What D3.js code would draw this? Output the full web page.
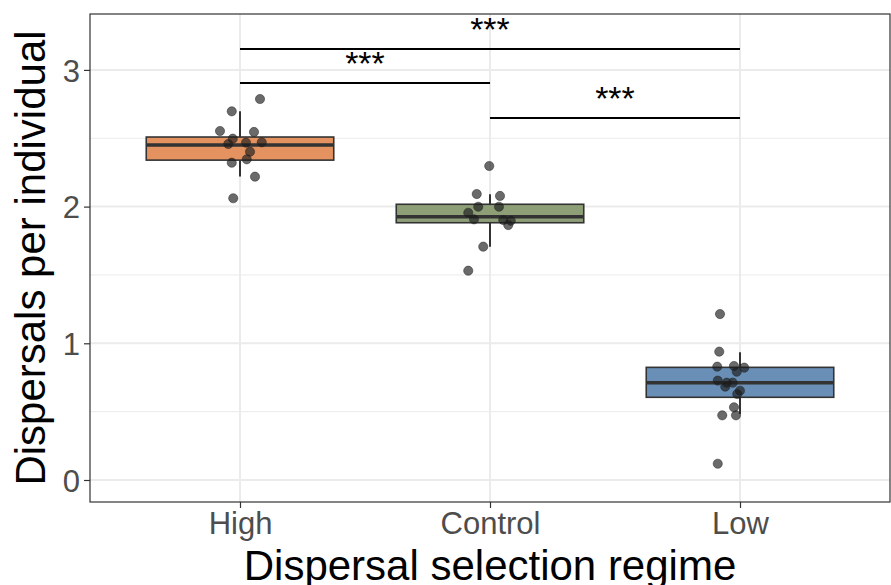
<!DOCTYPE html>
<html>
<head>
<meta charset="utf-8">
<script src="https://cdn.jsdelivr.net/npm/d3@7"></script>
<style>
body { margin: 0; background: #fff; }
svg { display: block; font-family: "Liberation Sans", Arial, sans-serif; }
</style>
</head>
<body>
<svg id="chart" width="891" height="585"></svg>
<script>
// box + jitter plot of dispersals per regime

var categories = ["High", "Control", "Low"];
var boxColors = ["#E4925F", "#8E9F78", "#6A8FB7"];

// box stats: lower whisker, q1, median, q3, upper whisker
var whiskerLow = [2.22, 1.707, 0.483];
var q1 = [2.34, 1.882, 0.605];
var median = [2.45, 1.926, 0.712];
var q3 = [2.509, 2.017, 0.824];
var whiskerHigh = [2.697, 2.09, 0.934];

// individual points: jitter offset (in category steps) and value
var highJitter = [0.08, -0.033, -0.08, 0.056, -0.029, -0.047, 0.024, 0.087, 0.04, 0.027, -0.033, 0.06, -0.027];
var highValues = [2.787, 2.697, 2.553, 2.546, 2.497, 2.458, 2.468, 2.470, 2.402, 2.346, 2.321, 2.219, 2.061];
var controlJitter = [-0.003, -0.053, 0.04, -0.047, 0.036, -0.087, -0.064, 0.053, 0.083, 0.073, -0.027, -0.087];
var controlValues = [2.297, 2.092, 2.078, 1.999, 1.999, 1.955, 1.907, 1.902, 1.897, 1.865, 1.707, 1.531];
var lowJitter = [-0.08, -0.083, -0.091, -0.024, 0.017, -0.013, -0.089, -0.053, -0.029, -0.059, 0, -0.011, -0.024, -0.071, -0.016, -0.089];
var lowValues = [1.214, 0.939, 0.829, 0.834, 0.822, 0.792, 0.727, 0.712, 0.712, 0.683, 0.653, 0.629, 0.532, 0.473, 0.473, 0.119];

// significance brackets
var sigFrom = ["High", "High", "Control"];
var sigTo = ["Low", "Control", "Low"];
var sigY = [3.153, 2.904, 2.648];
var sigLabel = ["***", "***", "***"];

var yTicks = [0, 1, 2, 3];
var yMinor = [0.5, 1.5, 2.5];

var panelLeft = 90, panelRight = 890, panelTop = 14, panelBottom = 502;

var svg = d3.select("#chart");

var x = d3.scalePoint()
.domain(categories)
.range([panelLeft, panelRight])
.padding(0.6);
var step = x.step();

var y = d3.scaleLinear()
.domain([-0.161, 3.409])
.range([panelBottom, panelTop]);

// grid
svg.selectAll(".minor")
.data(yMinor)
.enter().append("line")
.attr("x1", panelLeft).attr("x2", panelRight)
.attr("y1", function (d) { return y(d); })
.attr("y2", function (d) { return y(d); })
.style("stroke", "#EBEBEB")
.style("stroke-width", 1);
svg.selectAll(".major")
.data(yTicks)
.enter().append("line")
.attr("x1", panelLeft).attr("x2", panelRight)
.attr("y1", function (d) { return y(d); })
.attr("y2", function (d) { return y(d); })
.style("stroke", "#EBEBEB")
.style("stroke-width", 2);
svg.selectAll(".vgrid")
.data(categories)
.enter().append("line")
.attr("x1", function (d) { return x(d); })
.attr("x2", function (d) { return x(d); })
.attr("y1", panelTop).attr("y2", panelBottom)
.style("stroke", "#EBEBEB")
.style("stroke-width", 2);

// axes
var yAxis = svg.append("g")
.attr("transform", "translate(" + panelLeft + ",0)")
.call(d3.axisLeft(y).tickValues(yTicks).tickSize(6).tickPadding(4).tickFormat(d3.format("d")));
var xAxis = svg.append("g")
.attr("transform", "translate(0," + panelBottom + ")")
.call(d3.axisBottom(x).tickSize(6).tickPadding(3));
[yAxis, xAxis].forEach(function (g) {
	g.select(".domain").remove();
	g.selectAll("line").style("stroke", "#333").style("stroke-width", 1.2);
	g.selectAll("text")
	.style("fill", "#4D4D4D")
	.style("font-size", "31px")
	.style("font-family", "Liberation Sans, Arial, sans-serif");
});
yAxis.selectAll("text").attr("dy", "0.36em");
xAxis.selectAll("text").attr("dy", "0.74em");

// whiskers + boxes
var boxW = 0.75 * step;
categories.forEach(function (c, i) {
	svg.append("line")
	.attr("x1", x(c)).attr("x2", x(c))
	.attr("y1", y(whiskerLow[i]))
	.attr("y2", y(whiskerHigh[i]))
	.style("stroke", "#333")
	.style("stroke-width", 2);
	svg.append("rect")
	.attr("x", x(c) - boxW / 2)
	.attr("y", y(q3[i]))
	.attr("width", boxW)
	.attr("height", y(q1[i]) - y(q3[i]))
	.style("fill", boxColors[i])
	.style("stroke", "#333")
	.style("stroke-width", 1.6);
	svg.append("line")
	.attr("x1", x(c) - boxW / 2).attr("x2", x(c) + boxW / 2)
	.attr("y1", y(median[i])).attr("y2", y(median[i]))
	.style("stroke", "#333")
	.style("stroke-width", 3.5);
});

// points
var groups = [
	{ cat: "High", jit: highJitter, vals: highValues },
	{ cat: "Control", jit: controlJitter, vals: controlValues },
	{ cat: "Low", jit: lowJitter, vals: lowValues }
];
groups.forEach(function (g) {
	g.vals.forEach(function (v, k) {
		svg.append("circle")
		.attr("cx", x(g.cat) + g.jit[k] * step)
		.attr("cy", y(v))
		.attr("r", 4.6)
		.style("fill", "#1a1a1a")
		.style("fill-opacity", 0.65)
		.style("stroke", "#222")
		.style("stroke-opacity", 0.7)
		.style("stroke-width", 0.7);
	});
});

// significance brackets
sigY.forEach(function (v, i) {
	var x1 = x(sigFrom[i]), x2 = x(sigTo[i]);
	svg.append("line")
	.attr("x1", x1).attr("x2", x2)
	.attr("y1", y(v)).attr("y2", y(v))
	.style("stroke", "#000")
	.style("stroke-width", 2);
	svg.append("text")
	.text(sigLabel[i])
	.attr("x", (x1 + x2) / 2)
	.attr("y", y(v) - 8)
	.attr("text-anchor", "middle")
	.style("font-size", "34px");
});

// panel border
svg.append("rect")
.attr("x", panelLeft).attr("y", panelTop)
.attr("width", panelRight - panelLeft).attr("height", panelBottom - panelTop)
.style("fill", "none")
.style("stroke", "#333")
.style("stroke-width", 1.2);

// titles
svg.append("text")
.text("Dispersal selection regime")
.attr("x", (panelLeft + panelRight) / 2)
.attr("y", 580)
.attr("text-anchor", "middle")
.style("font-size", "42px");
svg.append("text")
.text("Dispersals per individual")
.attr("transform", "translate(45," + (panelTop + panelBottom) / 2 + ") rotate(-90)")
.attr("text-anchor", "middle")
.style("font-size", "42px");
</script>
</body>
</html>
